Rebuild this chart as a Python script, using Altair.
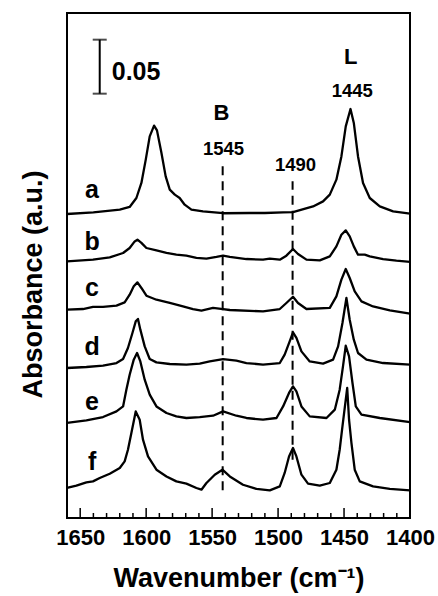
import altair as alt
import pandas as pd

FONT = "Liberation Sans"

# ---- spectra (wavenumber, absorbance incl. vertical offset) ----
a_w = [1660, 1640, 1620, 1612.5, 1607.4, 1603.6, 1600.3, 1597.3, 1594, 1591.8, 1588.4, 1585.2, 1582.1, 1578.3,
       1574.6, 1570.8, 1565.7, 1556.9, 1541.7, 1521.5, 1510, 1496.2, 1488.7, 1473.5, 1465.9, 1460.8, 1455.8, 1452,
       1448.7, 1445.1, 1442.6, 1439.4, 1435.6, 1430.5, 1422.9, 1412.8, 1400]
a_A = [0.2815, 0.2830, 0.2855, 0.2880, 0.2963, 0.3102, 0.3318, 0.3534, 0.3633, 0.3589, 0.3380, 0.3163, 0.3040, 0.2994,
       0.2963, 0.2901, 0.2855, 0.2839, 0.2822, 0.2824, 0.2824, 0.2830, 0.2832, 0.2885, 0.2932, 0.2994, 0.3133, 0.3348,
       0.3626, 0.3787, 0.3658, 0.3348, 0.3102, 0.2963, 0.2885, 0.2839, 0.2818]

b_w = [1660, 1640.3, 1627.6, 1617.5, 1612.5, 1608.7, 1606.6, 1603.6, 1599.8, 1592.2, 1584.6, 1577.1, 1569.5, 1561.9,
       1554.3, 1546.7, 1541.7, 1536.6, 1524, 1511.4, 1506.3, 1498.7, 1493.7, 1488.7, 1484.9, 1478.5, 1468.4, 1460.8,
       1455.8, 1452, 1448.7, 1445.7, 1442.6, 1439.4, 1434.3, 1430.5, 1420.4, 1410.3, 1400]
b_A = [0.2376, 0.2392, 0.2413, 0.2454, 0.2500, 0.2561, 0.2577, 0.2547, 0.2500, 0.2478, 0.2454, 0.2438, 0.2429, 0.2408,
       0.2401, 0.2417, 0.2429, 0.2417, 0.2398, 0.2392, 0.2401, 0.2392, 0.2429, 0.2491, 0.2445, 0.2392, 0.2385, 0.2422,
       0.2515, 0.2623, 0.2663, 0.2608, 0.2515, 0.2438, 0.2438, 0.2422, 0.2398, 0.2383, 0.2371]

c_w = [1660, 1647.9, 1640.3, 1632.7, 1622.5, 1616.3, 1612.5, 1609.4, 1606.6, 1603.6, 1599.8, 1592.2, 1582.1, 1572.1,
       1564.5, 1558.1, 1549.3, 1541.7, 1536.6, 1511.4, 1498.7, 1493.7, 1488.7, 1484.9, 1478.5, 1460.8, 1455.8, 1452,
       1448.7, 1445.7, 1441.9, 1436.8, 1428, 1415.3, 1400]
c_A = [0.1929, 0.1935, 0.1954, 0.1954, 0.1966, 0.1996, 0.2068, 0.2145, 0.2182, 0.2130, 0.2058, 0.2021, 0.1991, 0.1959,
       0.1935, 0.1920, 0.1945, 0.1935, 0.1926, 0.1913, 0.1935, 0.1991, 0.2049, 0.1991, 0.1935, 0.1945, 0.2052, 0.2207,
       0.2306, 0.2222, 0.2098, 0.2006, 0.1959, 0.1922, 0.1892]

d_w = [1660, 1645.3, 1632.7, 1622.5, 1617.5, 1613.8, 1610.4, 1607.9, 1606.2, 1604.4, 1601.1, 1597.3, 1592.2, 1582.1,
       1569.5, 1559.4, 1551.8, 1541.7, 1531.6, 1524, 1511.4, 1498.7, 1495, 1491.2, 1488.7, 1486.1, 1482.3, 1476,
       1465.9, 1458.3, 1454.5, 1451.2, 1448.2, 1445.7, 1442.6, 1439.4, 1433, 1420.4, 1400]
d_A = [0.1389, 0.1398, 0.1410, 0.1435, 0.1472, 0.1574, 0.1713, 0.1821, 0.1843, 0.1744, 0.1589, 0.1472, 0.1441, 0.1426,
       0.1420, 0.1430, 0.1450, 0.1472, 0.1457, 0.1435, 0.1420, 0.1435, 0.1512, 0.1635, 0.1719, 0.1667, 0.1543, 0.1450,
       0.1429, 0.1466, 0.1589, 0.1806, 0.2037, 0.1836, 0.1651, 0.1528, 0.1466, 0.1435, 0.1420]

e_w = [1660, 1645.3, 1632.7, 1622.5, 1617.5, 1615, 1612.5, 1609.4, 1606.9, 1604.4, 1601.1, 1597.3, 1592.2, 1584.6,
       1577.1, 1569.5, 1559.4, 1549.3, 1541.7, 1531.6, 1524, 1511.4, 1501.2, 1496.2, 1491.7, 1488.7, 1486.1, 1482.3,
       1476, 1463.3, 1457, 1453.3, 1450.8, 1448.7, 1446.2, 1443.6, 1441.1, 1436.8, 1422.9, 1400]
e_A = [0.0880, 0.0904, 0.0935, 0.0987, 0.1033, 0.1188, 0.1327, 0.1466, 0.1528, 0.1450, 0.1281, 0.1142, 0.1033, 0.0972,
       0.0941, 0.0926, 0.0935, 0.0947, 0.0987, 0.0947, 0.0926, 0.0910, 0.0926, 0.1033, 0.1158, 0.1219, 0.1172, 0.1033,
       0.0941, 0.0926, 0.1003, 0.1188, 0.1404, 0.1595, 0.1496, 0.1250, 0.1033, 0.0957, 0.0926, 0.0887]

f_w = [1660, 1652.9, 1645.3, 1640.3, 1635.2, 1627.6, 1620, 1616.3, 1613.8, 1611.2, 1607.9, 1604.9, 1602.4, 1598.6,
       1592.2, 1584.6, 1577.1, 1569.5, 1561.9, 1558.1, 1554.3, 1548, 1542.2, 1536.6, 1526.6, 1516.4, 1506.3, 1498.7,
       1495, 1491.7, 1488.7, 1486.1, 1482.3, 1477.3, 1468.4, 1460.8, 1455.8, 1453.3, 1451.2, 1447.6, 1446.2, 1444.4,
       1441.9, 1438.1, 1428, 1415.3, 1400]
f_A = [0.0278, 0.0299, 0.0330, 0.0339, 0.0370, 0.0410, 0.0463, 0.0524, 0.0632, 0.0787, 0.0987, 0.0910, 0.0725, 0.0570,
       0.0447, 0.0385, 0.0339, 0.0318, 0.0278, 0.0262, 0.0324, 0.0401, 0.0447, 0.0385, 0.0308, 0.0269, 0.0256, 0.0293,
       0.0417, 0.0570, 0.0648, 0.0570, 0.0401, 0.0318, 0.0299, 0.0324, 0.0447, 0.0632, 0.0848, 0.1204, 0.0910, 0.0695,
       0.0447, 0.0339, 0.0293, 0.0269, 0.0256]

trace_names = ["a", "b", "c", "d", "e", "f"]
trace_w = [a_w, b_w, c_w, d_w, e_w, f_w]
trace_A = [a_A, b_A, c_A, d_A, e_A, f_A]

# trace letter labels (wavenumber, absorbance)
label_w = [1641, 1641, 1641, 1641, 1641, 1641]
label_A = [0.2963, 0.2478, 0.2058, 0.1512, 0.1003, 0.0441]

# band annotations
band_text = ["B", "L"]
band_w = [1542.9, 1444.9]
band_A = [0.3688, 0.4207]
num_text = ["1545", "1490", "1445"]
num_w = [1541.4, 1486.8, 1443.8]
num_A = [0.3364, 0.3210, 0.3898]

# dashed reference lines
ref_w = [1542, 1489]
ref_lo = [0.0256, 0.0540]
ref_hi = [0.3256, 0.3117]

# scale bar (0.05 absorbance)
bar_w = [1635.2]
bar_lo = [0.3929]
bar_len = 0.05
bar_text = ["0.05"]
bar_text_w = [1626.1]
bar_text_A = [0.4059]

# axis ticks
major_ticks = [1650, 1600, 1550, 1500, 1450, 1400]
minor_ticks = [1640, 1630, 1620, 1610, 1590, 1580, 1570, 1560, 1540, 1530, 1520, 1510,
               1490, 1480, 1470, 1460, 1440, 1430, 1420, 1410]

# ---- build tables ----
rows = []
for name, ws, As in zip(trace_names, trace_w, trace_A):
    for w, A in zip(ws, As):
        rows.append({"trace": name, "w": w, "A": A})
spec = pd.DataFrame(rows)

labels_df = pd.DataFrame({"w": label_w, "A": label_A, "label": trace_names})
band_df = pd.DataFrame({"w": band_w, "A": band_A, "label": band_text})
num_df = pd.DataFrame({"w": num_w, "A": num_A, "label": num_text})
ref_df = pd.DataFrame({"w": ref_w, "A": ref_lo, "A2": ref_hi})
bar_df = pd.DataFrame({"w": bar_w, "A": bar_lo, "A2": [v + bar_len for v in bar_lo]})
cap_df = pd.DataFrame({"w": bar_w * 2, "A": bar_lo + [v + bar_len for v in bar_lo]})
bartxt_df = pd.DataFrame({"w": bar_text_w, "A": bar_text_A, "label": bar_text})
major_df = pd.DataFrame({"w": major_ticks[:-1]})
minor_df = pd.DataFrame({"w": minor_ticks})

W, H = 343, 505

x_enc = alt.X(
    "w:Q",
    scale=alt.Scale(domain=[1400, 1660], reverse=True, nice=False, zero=False),
    axis=alt.Axis(
        values=major_ticks, format="d", ticks=False, domain=False, grid=False,
        labelFont=FONT, labelFontWeight="bold", labelFontSize=22, labelColor="black",
        labelPadding=9, labelFlush=False, labelOverlap=False, labelBound=False,
        title="Wavenumber (cm⁻¹)", titleFont=FONT, titleFontSize=27, titleFontWeight="bold",
        titleColor="black", titleY=68, titleBaseline="alphabetic",
    ),
)
y_enc = alt.Y(
    "A:Q",
    scale=alt.Scale(domain=[0, 0.4676], nice=False, zero=False),
    axis=alt.Axis(
        labels=False, ticks=False, domain=False, grid=False,
        title="Absorbance (a.u.)", titleFont=FONT, titleFontSize=27, titleFontWeight="bold",
        titleColor="black", titleAngle=270, titleX=-26, titleY=271,
        titleBaseline="alphabetic", titleAlign="center",
    ),
)

lines = alt.Chart(spec).mark_line(color="black", strokeWidth=2.3, strokeJoin="round").encode(
    x=x_enc, y=y_enc, detail="trace:N"
)
refs = alt.Chart(ref_df).mark_rule(color="black", strokeWidth=2, strokeDash=[9, 6]).encode(
    x=x_enc, y=y_enc, y2="A2:Q"
)
bar = alt.Chart(bar_df).mark_rule(color="black", strokeWidth=2).encode(x=x_enc, y=y_enc, y2="A2:Q")
caps = alt.Chart(cap_df).mark_tick(orient="horizontal", color="black", size=14, thickness=2).encode(
    x=x_enc, y=y_enc
)
major = alt.Chart(major_df).mark_rule(color="black", strokeWidth=1.5).encode(
    x=x_enc, y=alt.value(H), y2=alt.value(H - 10)
)
minor = alt.Chart(minor_df).mark_rule(color="black", strokeWidth=1.5).encode(
    x=x_enc, y=alt.value(H), y2=alt.value(H - 5)
)


def txt(df, size, align="center"):
    return alt.Chart(df).mark_text(
        font=FONT, fontWeight="bold", fontSize=size, align=align, baseline="alphabetic", color="black"
    ).encode(x=x_enc, y=y_enc, text="label:N")


chart = alt.layer(
    major, minor, refs, lines, bar, caps,
    txt(labels_df, 25), txt(band_df, 22), txt(num_df, 18.5), txt(bartxt_df, 25, "left"),
).properties(
    width=W, height=H,
    padding={"left": 67, "top": 13, "right": 28, "bottom": 78},
    autosize="none",
    background="white",
).configure_view(stroke="black", strokeWidth=2)

chart.save("out.html", embed_options={"renderer": "svg", "actions": False})
